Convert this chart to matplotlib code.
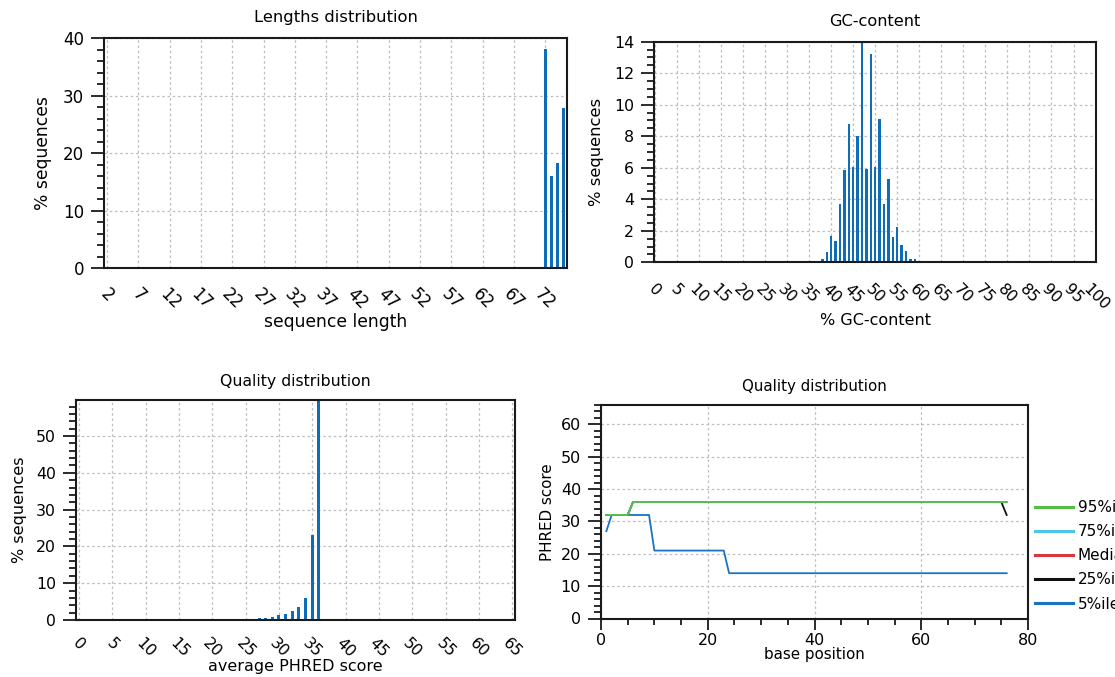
import matplotlib
matplotlib.use("Agg")
import matplotlib.pyplot as plt
from matplotlib.ticker import MultipleLocator, FixedLocator

# ---------------- data ----------------
# Lengths distribution
length_values = [72, 73, 74, 75]
length_pct = [38.1, 16.1, 18.4, 27.8]
length_ticks = [2, 7, 12, 17, 22, 27, 32, 37, 42, 47, 52, 57, 62, 67, 72]

# GC-content
gc_values = [36, 37, 38, 39, 40, 41, 42, 43, 44, 45, 46, 47, 48, 49, 50,
             51, 52, 53, 54, 55, 56, 57, 58, 59, 60, 61]
gc_pct = [0.08, 0.08, 0.20, 0.63, 1.67, 1.33, 3.68, 5.84, 8.77, 6.07, 8.03,
          14.16, 5.92, 13.2, 6.07, 9.07, 3.68, 5.29, 1.59, 2.22, 1.10, 0.74,
          0.23, 0.21, 0.08, 0.06]
gc_ticks = [0, 5, 10, 15, 20, 25, 30, 35, 40, 45, 50, 55, 60, 65, 70, 75,
            80, 85, 90, 95, 100]

# Quality distribution (average PHRED)
q_scores = [26, 27, 28, 29, 30, 31, 32, 33, 34, 35, 36]
q_pct = [0.36, 0.45, 0.64, 0.90, 1.27, 1.60, 2.45, 3.50, 6.10, 23.0, 59.8]
q_ticks = [0, 5, 10, 15, 20, 25, 30, 35, 40, 45, 50, 55, 60, 65]

# Per-base quality percentiles (breakpoints: base position, PHRED score)
p95_pos = [1, 5, 6, 76]
p95_val = [32, 32, 36, 36]
p75_pos = [1, 5, 6, 76]
p75_val = [32, 32, 36, 36]
med_pos = [1, 5, 6, 76]
med_val = [32, 32, 36, 36]
p25_pos = [1, 5, 6, 75, 76]
p25_val = [32, 32, 36, 36, 32]
p5_pos = [1, 2, 9, 10, 23, 24, 76]
p5_val = [27, 32, 32, 21, 21, 14, 14]
pct_labels = ["95%ile", "75%ile", "Median", "25%ile", "5%ile"]
pct_colors = ["#55bf45", "#4fc6e8", "#d9363e", "#111111", "#1a73c2"]

BAR = "#0f6cb6"
GRID = dict(color="#bdbdbd", linestyle=(0, (2.0, 2.2)), linewidth=0.9)
SPINE = "#1a1a1a"

W, H = 1115, 677
fig = plt.figure(figsize=(W / 100, H / 100), dpi=100)


def add_ax(l, r, t, b):
    return fig.add_axes([l / W, 1 - b / H, (r - l) / W, (b - t) / H])


def style(ax, fs):
    for s in ax.spines.values():
        s.set_color(SPINE)
        s.set_linewidth(1.5)
    ax.tick_params(axis="y", which="major", direction="out", length=9.4,
                   width=1.3, color=SPINE, labelsize=fs, pad=5)
    ax.tick_params(axis="y", which="minor", direction="out", length=5,
                   width=1.3, color=SPINE)
    ax.set_axisbelow(True)


def hist_xticks(ax, ticks, fs, pad):
    ax.xaxis.set_major_locator(FixedLocator(ticks))
    ax.set_xticklabels([str(t) for t in ticks], rotation=-45, ha="center",
                       fontsize=fs)
    ax.tick_params(axis="x", which="both", length=0, pad=pad)


# ---- top-left: Lengths distribution ----
ax1 = add_ax(104, 567, 38.3, 268.3)
ax1.bar(length_values, length_pct, width=0.5, color=BAR)
ax1.set_xlim(1.5, 75.5)
ax1.set_ylim(0, 40)
ax1.yaxis.set_major_locator(MultipleLocator(10))
ax1.yaxis.set_minor_locator(MultipleLocator(2))
style(ax1, 12)
hist_xticks(ax1, length_ticks, 12, 12)
ax1.grid(True, which="major", **GRID)
ax1.set_title("Lengths distribution", fontsize=11.8, pad=12)
ax1.set_xlabel("sequence length", fontsize=12.3, labelpad=0)
ax1.set_ylabel("% sequences", fontsize=12.3, labelpad=8)

# ---- top-right: GC-content ----
ax2 = add_ax(654, 1096, 41.7, 262.3)
ax2.bar(gc_values, gc_pct, width=0.55, color=BAR)
ax2.set_xlim(-0.2, 100.1)
ax2.set_ylim(0, 14)
ax2.yaxis.set_major_locator(MultipleLocator(2))
ax2.yaxis.set_minor_locator(MultipleLocator(0.5))
style(ax2, 11.3)
hist_xticks(ax2, gc_ticks, 11.3, 13.5)
ax2.grid(True, which="major", **GRID)
ax2.set_title("GC-content", fontsize=11.6, pad=11)
ax2.set_xlabel("% GC-content", fontsize=11.5, labelpad=0)
ax2.set_ylabel("% sequences", fontsize=11.8, labelpad=7)

# ---- bottom-left: Quality distribution (histogram) ----
ax3 = add_ax(75.8, 515.5, 400, 620)
ax3.bar(q_scores, q_pct, width=0.45, color=BAR)
ax3.set_xlim(-0.5, 65.5)
ax3.set_ylim(0, 59.8)
ax3.yaxis.set_major_locator(FixedLocator([0, 10, 20, 30, 40, 50]))
ax3.yaxis.set_minor_locator(MultipleLocator(2))
style(ax3, 11.3)
hist_xticks(ax3, q_ticks, 11.3, 11)
ax3.grid(True, which="major", **GRID)
ax3.set_title("Quality distribution", fontsize=11.3, pad=10)
ax3.set_xlabel("average PHRED score", fontsize=11.5, labelpad=-1)
ax3.set_ylabel("% sequences", fontsize=11.6, labelpad=6)

# ---- bottom-right: per-base quality ----
ax4 = add_ax(601, 1028, 405, 618.5)
series = [(p95_pos, p95_val), (p75_pos, p75_val), (med_pos, med_val),
          (p25_pos, p25_val), (p5_pos, p5_val)]
for i in range(4, -1, -1):
    pos, val = series[i]
    ax4.plot(pos, val, color=pct_colors[i], linewidth=1.3,
             label=pct_labels[i])
ax4.set_xlim(0, 80)
ax4.set_ylim(0, 66)
ax4.xaxis.set_major_locator(MultipleLocator(20))
ax4.xaxis.set_minor_locator(MultipleLocator(5))
ax4.yaxis.set_major_locator(MultipleLocator(10))
ax4.yaxis.set_minor_locator(MultipleLocator(2))
style(ax4, 11.5)
ax4.tick_params(axis="x", which="major", direction="out", length=7.7,
                width=1.3, color=SPINE, labelsize=11.5, pad=3)
ax4.tick_params(axis="x", which="minor", direction="out", length=4.1,
                width=1.3, color=SPINE)
ax4.grid(True, which="major", **GRID)
ax4.set_title("Quality distribution", fontsize=10.8, pad=10)
ax4.set_xlabel("base position", fontsize=10.9, labelpad=-1)
ax4.set_ylabel("PHRED score", fontsize=10.9, labelpad=4)

leg_lines = [plt.Line2D([], [], color=c, linewidth=2.2) for c in pct_colors]
fig.legend(leg_lines, pct_labels, loc="upper left",
           bbox_to_anchor=(1035 / W, 1 - 500 / H), frameon=False,
           fontsize=11, handlelength=2.48, handletextpad=0.33,
           labelspacing=0.6, borderpad=0, borderaxespad=0)

fig.savefig("out.png", dpi=100)
